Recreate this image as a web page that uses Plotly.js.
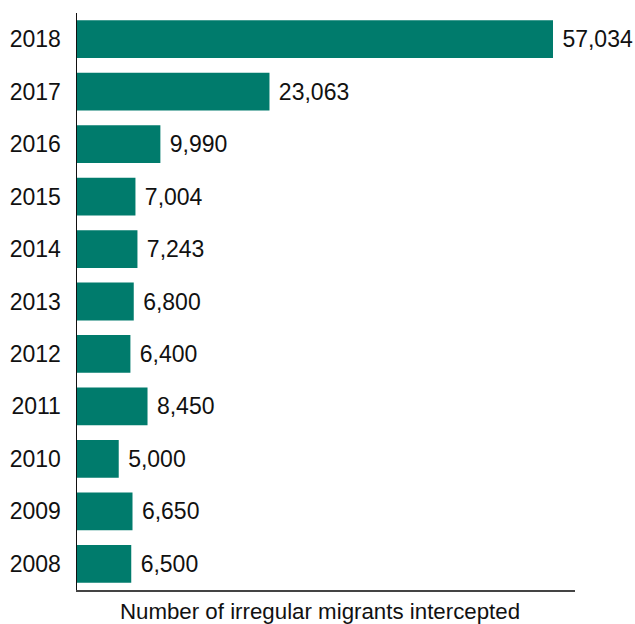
<!DOCTYPE html>
<html>
<head>
<meta charset="utf-8">
<script src="https://cdn.plot.ly/plotly-3.0.1.min.js"></script>
<style>html,body{margin:0;padding:0;background:#fff;}#chart{width:635px;height:624px;}</style>
</head>
<body>
<div id="chart"></div>
<script>
var years = ['2008','2009','2010','2011','2012','2013','2014','2015','2016','2017','2018'];
var migrants = [6500, 6650, 5000, 8450, 6400, 6800, 7243, 7004, 9990, 23063, 57034];
var axisTitle = 'Number of irregular migrants intercepted';

var FONT = '"Liberation Sans Narrow", "Liberation Sans", Arial, sans-serif';

var trace = {
  type: 'bar',
  orientation: 'h',
  y: years,
  x: migrants,
  marker: {color: '#007b6c'},
  texttemplate: '\u00a0%{x:,}',
  textposition: 'outside',
  textfont: {family: FONT, size: 23, color: '#111'},
  constraintext: 'none',
  cliponaxis: false,
  hoverinfo: 'none'
};

var layout = {
  width: 635,
  height: 624,
  margin: {l: 77, r: 60, t: 13, b: 34, pad: 0},
  paper_bgcolor: '#fff',
  plot_bgcolor: '#fff',
  bargap: 0.28,
  showlegend: false,
  font: {family: FONT, size: 23, color: '#111'},
  xaxis: {
    range: [0, 59670],
    showgrid: false,
    zeroline: false,
    showticklabels: false,
    ticks: '',
    showline: true,
    linecolor: '#444',
    linewidth: 2,
    title: {text: axisTitle, font: {family: FONT, size: 23, color: '#111'}, standoff: 13}
  },
  yaxis: {
    type: 'category',
    range: [-0.5, 10.5],
    showgrid: false,
    zeroline: false,
    showline: true,
    linecolor: '#111',
    linewidth: 1.5,
    ticks: '',
    ticklabelstandoff: 10,
    tickfont: {family: FONT, size: 23, color: '#111'}
  }
};

Plotly.newPlot('chart', [trace], layout, {displayModeBar: false, staticPlot: true}).then(function (gd) {
  // slightly condense the axis title and nudge it left, as in the reference
  var t = gd.querySelector('.g-xtitle text');
  if (t) {
    var cx = parseFloat(t.getAttribute('x')) || 0;
    var prev = t.getAttribute('transform') || '';
    t.setAttribute('transform', prev + ' translate(' + (cx - 6) + ',0) scale(0.97,1) translate(' + (-cx) + ',0)');
  }
});
</script>
</body>
</html>
